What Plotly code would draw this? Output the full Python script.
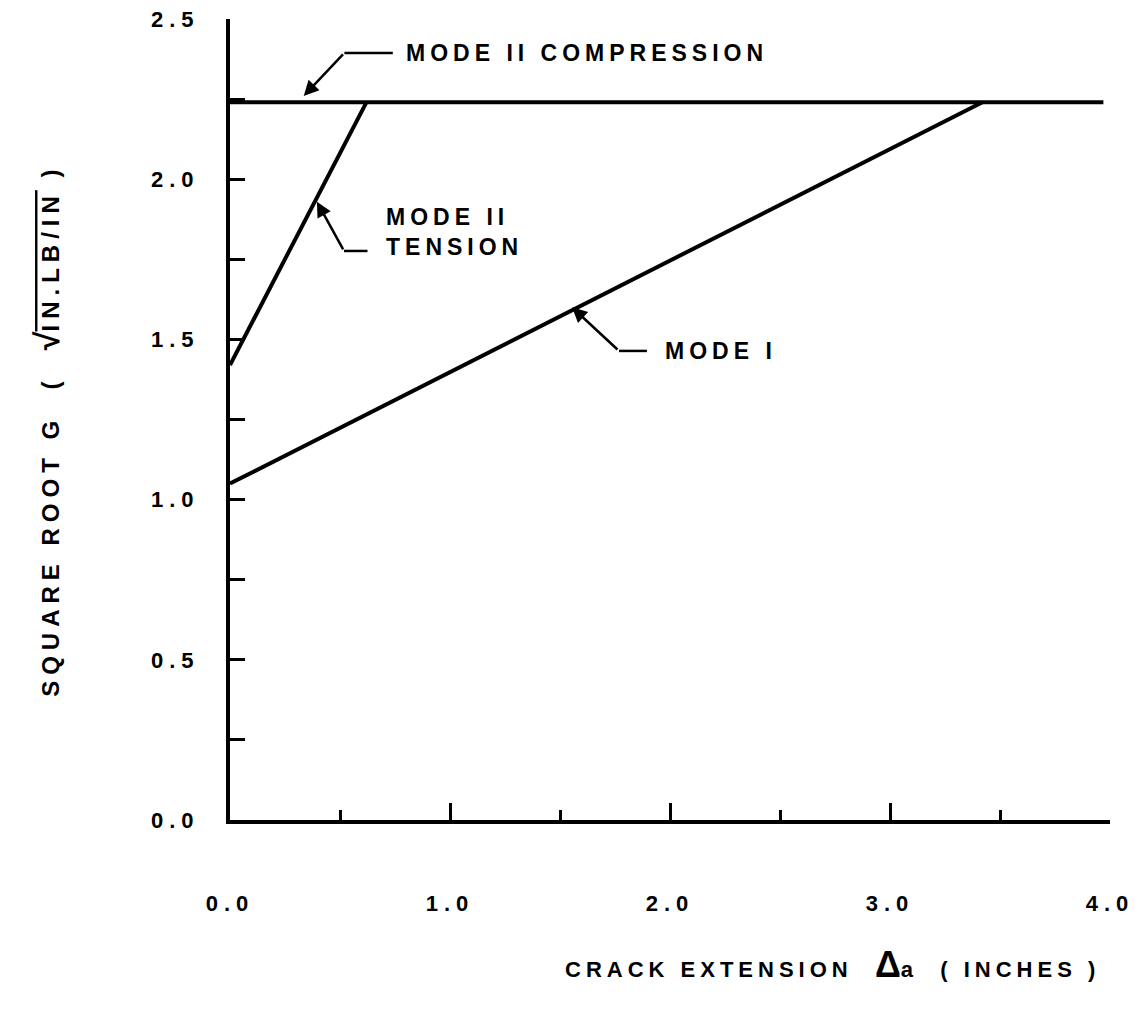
import plotly.graph_objects as go

# ---- data ----
comp_x = [0.0, 3.97]
comp_y = [2.24, 2.24]
tens_x = [0.0, 0.62]
tens_y = [1.42, 2.24]
mode1_x = [0.0, 3.42]
mode1_y = [1.05, 2.24]

x_tickvals = [0.0, 1.0, 2.0, 3.0, 4.0]
x_ticklabels = ["0.0", "1.0", "2.0", "3.0", "4.0"]
y_tickvals = [0.0, 0.5, 1.0, 1.5, 2.0, 2.5]
y_ticklabels = ["0.0", "0.5", "1.0", "1.5", "2.0", "2.5"]

FONT = "Liberation Sans, Arial, sans-serif"
LS = "letter-spacing:5px"


def sp(t, ls=LS):
    return f"<span style='{ls}'>{t}</span>"


fig = go.Figure()
line_style = dict(color="black", width=4)
for xs, ys, name in [(comp_x, comp_y, "Mode II compression"),
                     (tens_x, tens_y, "Mode II tension"),
                     (mode1_x, mode1_y, "Mode I")]:
    fig.add_trace(go.Scatter(x=xs, y=ys, mode="lines", line=line_style,
                             name=name, showlegend=False, cliponaxis=False))

# ---- labels with bent leader lines ----
labels = [
    # text, text x, text y, bend x, bend y, horizontal end x, tip x, tip y
    ("MODE II COMPRESSION", 0.79, 2.394, 0.52, 2.394, 0.74, 0.335, 2.26),
    ("MODE II<br>TENSION", 0.70, 1.835, 0.518, 1.776, 0.625, 0.395, 1.93),
    ("MODE I", 1.97, 1.464, 1.768, 1.464, 1.895, 1.555, 1.60),
]
for text, tx, ty, bx, by, hx, px, py in labels:
    fig.add_annotation(x=tx, y=ty, xref="x", yref="y", text=sp(text),
                       showarrow=False, xanchor="left", yanchor="middle",
                       align="left",
                       font=dict(family=FONT, size=23, color="black", weight="bold"))
    fig.add_shape(type="line", x0=bx, y0=by, x1=hx, y1=by, xref="x", yref="y",
                  line=dict(color="black", width=2.5))
    fig.add_annotation(x=px, y=py, ax=bx, ay=by, xref="x", yref="y",
                       axref="x", ayref="y", text="", showarrow=True,
                       arrowhead=2, arrowsize=1.2, arrowwidth=2.5,
                       arrowcolor="black", standoff=0, startstandoff=0)

# ---- axis titles ----
LS_T = "letter-spacing:6px"
fig.add_annotation(
    xref="paper", yref="paper", x=-0.208, y=0.487,
    text=sp("SQUARE ROOT G  (  ", LS_T) + "<span style='font-size:34px'>√</span>"
         + sp("<span style='text-decoration:overline'>IN.LB/IN</span> )", LS_T),
    textangle=-90, showarrow=False, xanchor="center", yanchor="middle",
    font=dict(family=FONT, size=24, color="black", weight="bold"))
fig.add_annotation(
    xref="paper", yref="paper", x=0.991, y=-0.181,
    text=sp("CRACK EXTENSION  ") + "<span style='font-size:36px'>Δ</span>"
         + sp("a  ( INCHES )"),
    showarrow=False, xanchor="right", yanchor="middle",
    font=dict(family=FONT, size=22, color="black", weight="bold"))

fig.update_xaxes(range=[0, 4.0], tickvals=x_tickvals,
                 ticktext=[sp(t, "letter-spacing:6px") for t in x_ticklabels],
                 ticks="inside", ticklen=17, tickwidth=2.5, tickcolor="black",
                 minor=dict(dtick=0.5, ticks="inside", ticklen=10, tickwidth=2.5,
                            tickcolor="black"),
                 showline=True, linewidth=4, linecolor="black", showgrid=False,
                 zeroline=False, ticklabelstandoff=61, automargin=False,
                 ticklabeloverflow="allow",
                 tickfont=dict(family=FONT, size=22, color="black", weight="bold"))
fig.update_yaxes(range=[0, 2.5], tickvals=y_tickvals,
                 ticktext=[sp(t, "letter-spacing:6px") for t in y_ticklabels],
                 ticks="inside", ticklen=15, tickwidth=2.5, tickcolor="black",
                 minor=dict(dtick=0.25, ticks="inside", ticklen=15, tickwidth=2.5,
                            tickcolor="black"),
                 showline=True, linewidth=4, linecolor="black", showgrid=False,
                 zeroline=False, ticklabelstandoff=22, automargin=False,
                 ticklabeloverflow="allow",
                 tickfont=dict(family=FONT, size=22, color="black", weight="bold"))

fig.update_layout(width=1148, height=1011,
                  margin=dict(l=222, r=46, t=11, b=199, autoexpand=False),
                  plot_bgcolor="white", paper_bgcolor="white",
                  showlegend=False)

fig.write_html("out.html")
